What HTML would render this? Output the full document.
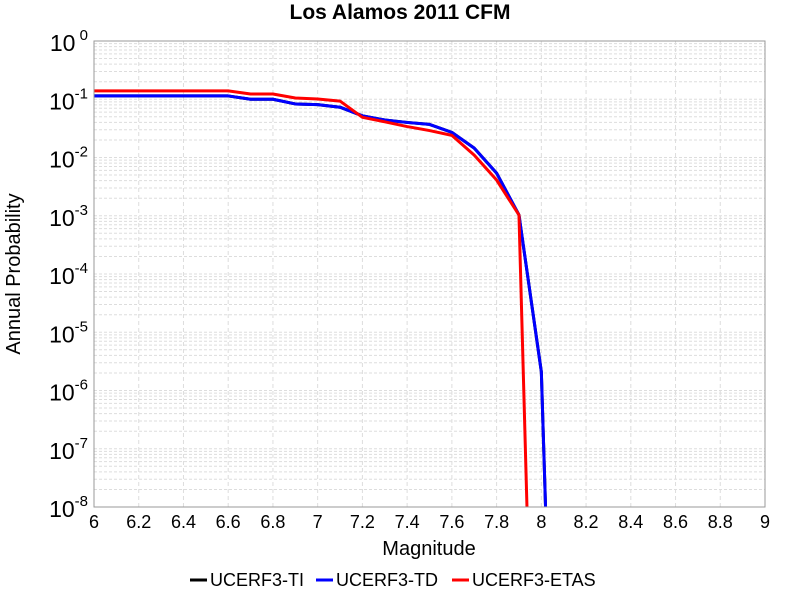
<!DOCTYPE html>
<html><head><meta charset="utf-8"><style>
html,body{margin:0;padding:0;background:#fff;overflow:hidden;width:800px;height:600px;}
svg{display:block;}
svg text{font-family:"Liberation Sans",sans-serif;}
</style></head><body>
<svg id="c" width="800" height="600" xmlns="http://www.w3.org/2000/svg">
<text x="400" y="19" text-anchor="middle" font-size="21" font-weight="bold">Los Alamos 2011 CFM</text>
<g id="grid"></g>
<g id="ticks"></g>
<defs><clipPath id="clip"><rect x="94" y="41" width="671" height="466"/></clipPath></defs>
<g id="series" clip-path="url(#clip)"></g>
<rect x="94" y="41" width="671" height="466" fill="none" stroke="#999" stroke-width="1"/>
<text x="429" y="555" text-anchor="middle" font-size="20">Magnitude</text>
<text transform="translate(20,274) rotate(-90)" text-anchor="middle" font-size="20">Annual Probability</text>
<g>
<g><line x1="190" y1="580" x2="207" y2="580" stroke="#000" stroke-width="3"/><text x="210" y="586" font-size="18">UCERF3-TI</text></g>
<g><line x1="316" y1="580" x2="333" y2="580" stroke="#0000ff" stroke-width="3"/><text x="336" y="586" font-size="18">UCERF3-TD</text></g>
<g><line x1="452" y1="580" x2="469" y2="580" stroke="#ff0000" stroke-width="3"/><text x="472" y="586" font-size="18">UCERF3-ETAS</text></g>
</g>
</svg>
<script>
const mags=[6.0,6.1,6.2,6.3,6.4,6.5,6.6,6.7,6.8,6.9,7.0,7.1,7.2,7.3,7.4,7.5,7.6,7.7,7.8,7.9,8.0,8.1];
const tiValues=[0.114,0.114,0.114,0.114,0.114,0.114,0.114,0.10,0.10,0.083,0.081,0.073,0.052,0.044,0.040,0.037,0.027,0.0145,0.0054,0.00103,2.1e-6,1e-18];
const tdValues=[0.114,0.114,0.114,0.114,0.114,0.114,0.114,0.10,0.10,0.083,0.081,0.073,0.052,0.044,0.040,0.037,0.027,0.0145,0.0054,0.00103,2.1e-6,1e-18];
const etasValues=[0.139,0.139,0.139,0.139,0.139,0.139,0.139,0.123,0.123,0.105,0.101,0.093,0.049,0.041,0.034,0.029,0.024,0.011,0.0041,0.00103,1e-17,1e-18];
const xTicks=[6,6.2,6.4,6.6,6.8,7,7.2,7.4,7.6,7.8,8,8.2,8.4,8.6,8.8,9];
const yExps=[0,-1,-2,-3,-4,-5,-6,-7,-8];
const X0=94,X1=765,Y0=41,Y1=507;
const xs=v=>X0+(v-6)/3*(X1-X0);
const ys=p=>Y0+(-Math.log10(p))/8*(Y1-Y0);
const NS="http://www.w3.org/2000/svg";
function mk(tag,attrs,parent){const e=document.createElementNS(NS,tag);for(const k in attrs)e.setAttribute(k,attrs[k]);parent.appendChild(e);return e;}
const grid=document.getElementById('grid'),ticks=document.getElementById('ticks'),series=document.getElementById('series');
for(let d=0;d<8;d++){for(let m=1;m<10;m++){const y=ys(Math.pow(10,-d-1)*m);
const l=mk('line',{x1:X0,x2:X1,y1:y,y2:y,stroke:'#ddd','stroke-width':1,'stroke-dasharray':'3,2'},grid);

}}
xTicks.forEach(t=>{const x=xs(t);
const l=mk('line',{x1:x,x2:x,y1:Y0,y2:Y1,stroke:'#ddd','stroke-width':1,'stroke-dasharray':'4,3'},grid);


const tx=mk('text',{x:x,y:528,'text-anchor':'middle','font-size':18},ticks);tx.textContent=String(t);

});
yExps.forEach(e=>{const y=ys(Math.pow(10,e));
const tx=mk('text',{x:88,y:y+10,'text-anchor':'end','font-size':23},ticks);


const a=document.createElementNS(NS,'tspan');a.textContent='10';tx.appendChild(a);
const b=document.createElementNS(NS,'tspan');b.setAttribute('dy','-11');b.setAttribute('font-size','15');b.textContent=e===0?' 0':String(e);tx.appendChild(b);});
function draw(vals,color,name){const pts=mags.map((m,i)=>xs(m)+','+ys(vals[i])).join(' ');
const p=mk('polyline',{points:pts,fill:'none',stroke:color,'stroke-width':3,'stroke-linejoin':'round'},series);

}
draw(tiValues,'#000','line-ucerf3-ti');
draw(tdValues,'#0000ff','line-ucerf3-td');
draw(etasValues,'#ff0000','line-ucerf3-etas');
</script>
</body></html>
